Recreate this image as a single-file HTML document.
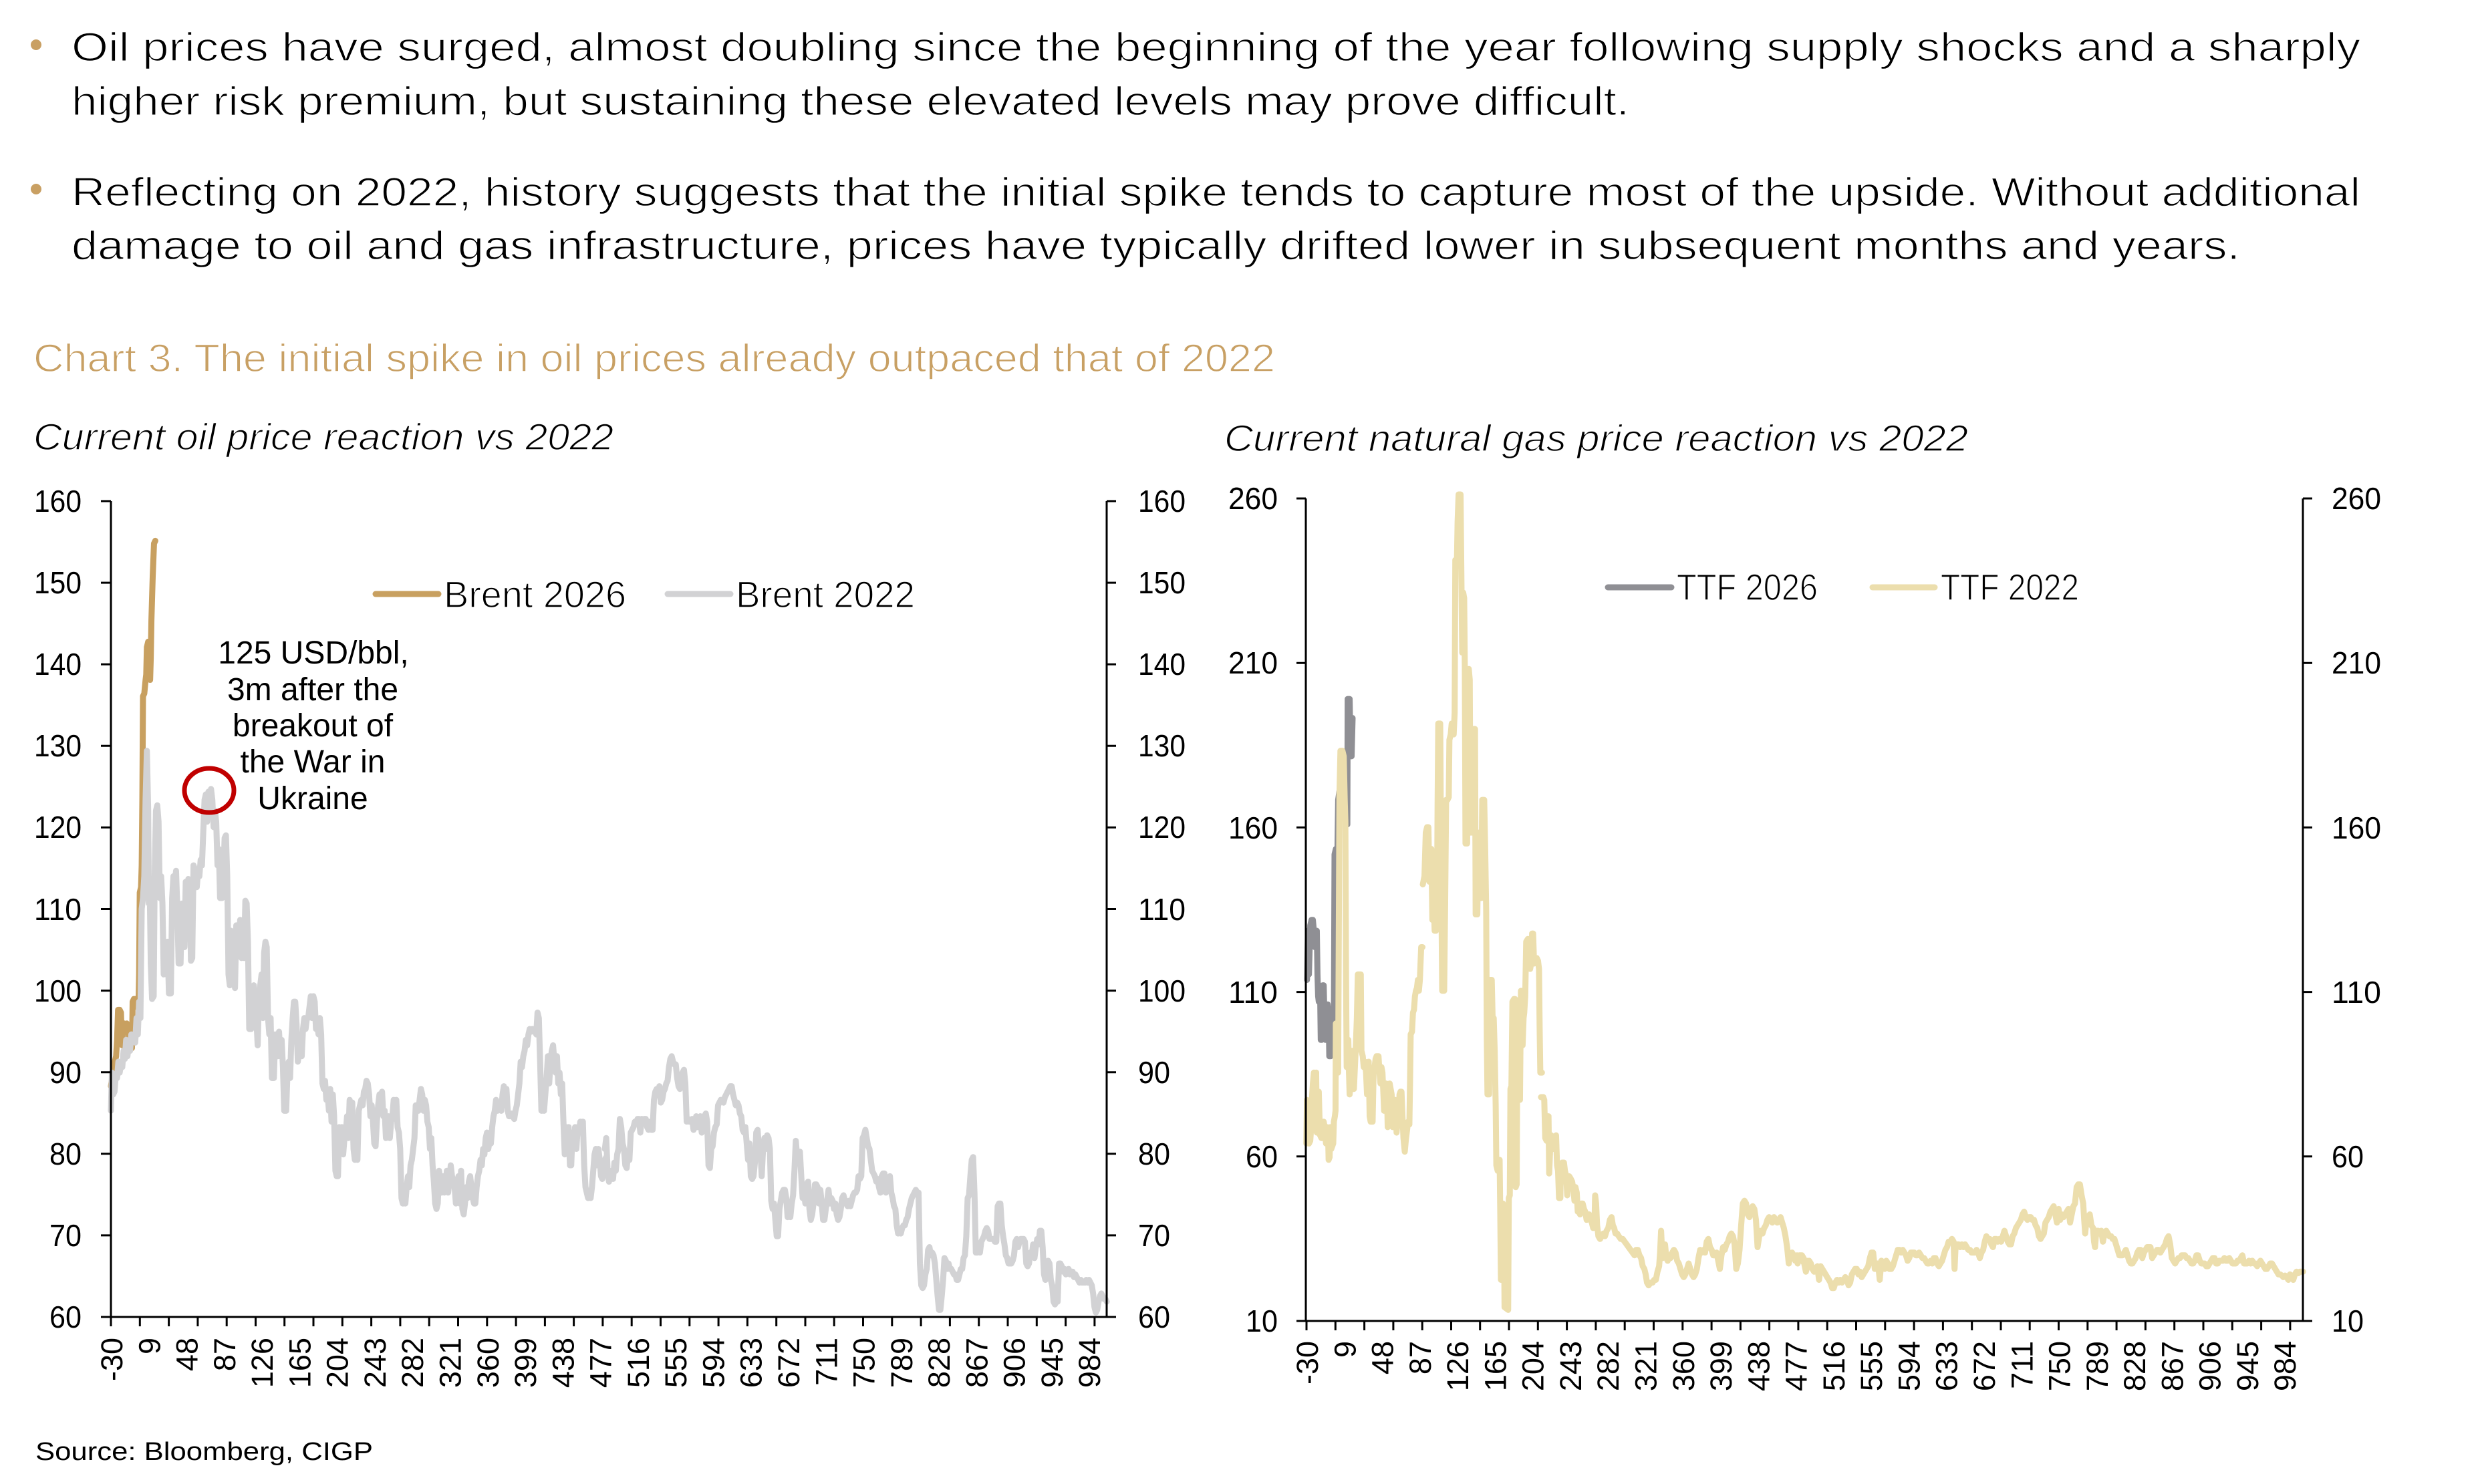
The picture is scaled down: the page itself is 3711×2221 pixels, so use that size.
<!DOCTYPE html>
<html><head><meta charset="utf-8"><style>
html,body{margin:0;padding:0;background:#fff;}
svg{display:block;}
text{font-family:"Liberation Sans",Arial,sans-serif;fill:#000;}
.thin{stroke:#fff;stroke-width:1.4px;}
</style></head><body>
<svg width="3711" height="2221" viewBox="0 0 3711 2221" xmlns="http://www.w3.org/2000/svg">
<rect width="3711" height="2221" fill="#fff"/>
<!-- bullets -->
<circle cx="54" cy="67" r="8" fill="#C9A063"/>
<circle cx="54" cy="283" r="8" fill="#C9A063"/>
<text class="thin" x="107" y="91" font-size="60" textLength="3425" lengthAdjust="spacingAndGlyphs">Oil prices have surged, almost doubling since the beginning of the year following supply shocks and a sharply</text>
<text class="thin" x="107" y="172" font-size="60" textLength="2331" lengthAdjust="spacingAndGlyphs">higher risk premium, but sustaining these elevated levels may prove difficult.</text>
<text class="thin" x="107" y="308" font-size="60" textLength="3425" lengthAdjust="spacingAndGlyphs">Reflecting on 2022, history suggests that the initial spike tends to capture most of the upside. Without additional</text>
<text class="thin" x="107" y="388" font-size="60" textLength="3245" lengthAdjust="spacingAndGlyphs">damage to oil and gas infrastructure, prices have typically drifted lower in subsequent months and years.</text>
<text class="thin" x="50" y="556" font-size="58" style="fill:#C8A064" textLength="1858" lengthAdjust="spacingAndGlyphs">Chart 3. The initial spike in oil prices already outpaced that of 2022</text>
<text class="thin" x="50" y="673" font-size="56" font-style="italic" textLength="868" lengthAdjust="spacingAndGlyphs">Current oil price reaction vs 2022</text>
<text class="thin" x="1832" y="675" font-size="56" font-style="italic" textLength="1113" lengthAdjust="spacingAndGlyphs">Current natural gas price reaction vs 2022</text>
<text x="53" y="2185" font-size="38" textLength="505" lengthAdjust="spacingAndGlyphs">Source: Bloomberg, CIGP</text>

<!-- ===== LEFT CHART ===== -->
<g fill="none" stroke-linejoin="round" stroke-linecap="round">
<!-- Brent 2026 -->
<g transform="translate(150,740) scale(0.4847,0.8163)">
<path vector-effect="non-scaling-stroke" stroke="#C8A060" stroke-width="9" d="M33,1085 L37,1070 L41,1060 L45,1040 L49,1030 L52,1000 L55,945 L60,945 L64,950 L66,990 L68,1010 L70,975 L74,970 L78,975 L82,970 L86,975 L90,1010 L94,1000 L98,1015 L100,930 L104,925 L110,925 L114,940 L118,940 L120,880 L122,730 L126,720 L128,680 L130,560 L132,370 L136,365 L140,340 L142,330 L144,280 L148,270 L150,270 L154,340 L156,300 L158,230 L162,150 L166,90 L170,85"/>
<!-- Brent 2022 part 1 -->
<path vector-effect="non-scaling-stroke" stroke="#D2D2D4" stroke-width="9" d="M33,1130 L36,1060 L40,1100 L44,1095 L48,1065 L52,1070 L56,1040 L60,1060 L64,1045 L68,1050 L72,1020 L76,1035 L80,1000 L84,1030 L88,1010 L92,1020 L96,990 L100,1000 L104,990 L108,1005 L112,960 L116,990 L120,930 L124,960 L128,760 L132,740 L136,700 L140,560 L144,470 L148,580 L150,750 L153,730 L156,860 L160,925 L165,920 L168,700 L172,580 L176,570 L180,600 L184,740 L188,700 L192,750 L196,880 L200,860 L204,880 L208,820 L212,915 L218,915 L222,740 L226,700 L230,720 L234,690 L238,760 L242,860 L248,860 L252,750 L256,780 L260,830 L264,710 L268,760 L272,705 L276,720 L280,855 L284,850 L288,680 L294,690 L298,720 L302,690 L306,700 L310,670 L314,680 L318,620 L322,560 L326,550 L330,600 L334,545 L338,560 L342,540 L346,560 L350,610 L354,580 L358,600 L362,680 L366,650 L370,740 L376,740 L380,700 L384,630 L388,625 L392,700 L396,880 L400,900 L404,800 L408,880 L412,820 L416,905 L420,790 L424,790 L428,820 L432,780 L436,850 L440,800 L444,850 L448,745 L452,750 L456,820 L460,980 L466,980 L470,910 L474,900 L478,960 L482,960 L486,1010 L490,920 L494,900 L498,880 L502,960 L506,840 L510,820 L514,830 L518,960 L522,990 L526,960 L530,1070 L536,1070 L540,990 L544,1000 L548,1030 L552,985 L556,1030 L560,1000 L564,1050 L568,1130 L574,1130 L578,1060 L582,1040 L586,1070 L590,1000 L594,960 L598,930 L602,930 L606,970 L610,1040 L614,1020 L618,1000 L622,1030 L626,980 L630,960 L634,980 L638,960 L642,960 L646,940 L650,920 L654,960 L658,920 L662,930 L666,980 L670,975 L674,990 L678,960 L682,990 L686,1080 L690,1090 L694,1075 L698,1110 L702,1100 L706,1130 L710,1090 L714,1150 L718,1100 L722,1140 L726,1240 L730,1250 L734,1250 L738,1160 L742,1200 L746,1160 L750,1210 L754,1180 L758,1170 L762,1140 L766,1180 L770,1110 L774,1150 L778,1115 L782,1200 L786,1220 L790,1200 L794,1220 L798,1130 L802,1120 L806,1110 L810,1120 L814,1095 L818,1090 L822,1075 L826,1080 L830,1100 L834,1140 L838,1120 L842,1150 L846,1190 L850,1195 L854,1150 L858,1120 L862,1100 L866,1110 L870,1095 L874,1140 L878,1130 L882,1180 L886,1170 L890,1140 L894,1180 L898,1150 L902,1140 L906,1110 L910,1140 L914,1110 L918,1160 L922,1170 L926,1200 L930,1290 L934,1300 L938,1280 L942,1300 L946,1270 L950,1250 L954,1270 L958,1230 L962,1220 L966,1200 L970,1180 L974,1120 L978,1120 L982,1130 L986,1110 L990,1090 L994,1100 L998,1130 L1002,1110 L1006,1120 L1010,1150 L1014,1160 L1018,1200 L1022,1180 L1026,1230 L1030,1260 L1034,1300 L1038,1310 L1042,1300 L1046,1240 L1050,1260 L1054,1280 L1058,1250 L1062,1280 L1066,1270 L1070,1240 L1074,1280 L1078,1260 L1082,1230 L1086,1250 L1090,1260 L1094,1270 L1098,1300 L1102,1260 L1106,1250 L1110,1300 L1114,1240 L1118,1310 L1122,1320 L1126,1300 L1130,1270 L1134,1290 L1138,1260 L1142,1250 L1146,1270 L1150,1290 L1154,1300 L1158,1300 L1162,1270 L1166,1250 L1170,1240 L1174,1220 L1178,1230 L1182,1200 L1186,1210 L1190,1180 L1194,1170 L1198,1200 L1202,1185 L1206,1190 L1210,1160 L1214,1140 L1218,1130 L1222,1110 L1226,1130 L1230,1115 L1234,1120 L1238,1130 L1242,1100 L1246,1085 L1250,1100 L1254,1090 L1258,1130 L1262,1140 L1266,1140 L1270,1135 L1274,1140 L1278,1145 L1282,1130 L1286,1120 L1290,1100 L1294,1080 L1298,1040 L1302,1050 L1306,1030 L1310,1020 L1314,1000 L1318,1010 L1322,990 L1326,980 L1330,985 L1334,980 L1338,985 L1342,980 L1346,990 L1350,950 L1354,960 L1358,1040 L1362,1130 L1366,1120 L1370,1130 L1374,1100 L1378,1070 L1382,1030 L1386,1080 L1390,1040 L1394,1020 L1398,1010 L1402,1040 L1406,1060 L1410,1030 L1414,1080 L1418,1060 L1422,1100 L1426,1080 L1430,1150 L1434,1210 L1438,1160 L1442,1170 L1446,1160 L1450,1230 L1454,1230 L1458,1170 L1462,1190 L1466,1160 L1470,1200 L1474,1160 L1478,1170 L1482,1150 L1486,1160 L1490,1150 L1494,1230 L1498,1270 L1502,1280 L1506,1290 L1510,1280 L1514,1290 L1518,1270 L1522,1240 L1526,1210 L1530,1200 L1534,1230 L1538,1200 L1542,1220 L1546,1250 L1550,1255 L1554,1240 L1558,1220 L1562,1215 L1566,1240"/>
</g>
<g transform="translate(900,740) scale(0.5102,0.8163)">
<path vector-effect="non-scaling-stroke" stroke="#D2D2D4" stroke-width="9" d="M10,1200 L14,1180 L18,1240 L22,1260 L26,1250 L30,1240 L34,1255 L38,1225 L42,1240 L46,1210 L50,1200 L54,1145 L58,1160 L62,1190 L66,1200 L70,1230 L74,1235 L78,1210 L82,1220 L86,1170 L90,1165 L94,1160 L98,1150 L102,1150 L106,1145 L110,1145 L114,1170 L118,1145 L122,1150 L126,1145 L130,1145 L134,1160 L138,1165 L142,1150 L146,1165 L150,1165 L154,1110 L158,1095 L162,1090 L166,1100 L170,1085 L174,1115 L178,1110 L182,1095 L186,1090 L190,1080 L194,1075 L198,1050 L202,1035 L206,1030 L210,1040 L214,1045 L218,1045 L222,1070 L226,1085 L230,1090 L234,1065 L238,1060 L242,1055 L246,1080 L250,1150 L254,1145 L258,1150 L262,1150 L266,1145 L270,1165 L274,1160 L278,1140 L282,1160 L286,1150 L290,1140 L294,1170 L298,1165 L302,1140 L306,1135 L310,1150 L314,1230 L318,1235 L322,1200 L326,1195 L330,1170 L334,1160 L338,1155 L342,1120 L346,1115 L350,1110 L354,1110 L358,1115 L362,1105 L366,1100 L370,1095 L374,1090 L378,1085 L382,1085 L386,1100 L390,1110 L394,1120 L398,1115 L402,1120 L406,1135 L410,1140 L414,1165 L418,1170 L422,1160 L426,1190 L430,1220 L434,1190 L438,1250 L442,1255 L446,1250 L450,1225 L454,1170 L458,1165 L462,1200 L466,1200 L470,1250 L474,1200 L478,1180 L482,1200 L486,1175 L490,1180 L494,1200 L498,1295 L502,1310 L506,1300 L510,1330 L514,1360 L518,1360 L522,1310 L526,1295 L530,1280 L534,1275 L538,1275 L542,1290 L546,1325 L550,1320 L554,1325 L558,1300 L562,1285 L566,1240 L570,1185 L574,1215 L578,1210 L582,1205 L586,1250 L590,1290 L594,1280 L598,1300 L602,1265 L606,1260 L610,1310 L614,1330 L618,1320 L622,1300 L626,1265 L630,1265 L634,1270 L638,1300 L642,1275 L646,1300 L650,1330 L654,1330 L658,1310 L662,1295 L666,1275 L670,1300 L674,1290 L678,1295 L682,1310 L686,1300 L690,1320 L694,1330 L698,1325 L702,1310 L706,1290 L710,1285 L714,1295 L718,1300 L722,1305 L726,1295 L730,1305 L734,1295 L738,1285 L742,1280 L746,1280 L750,1275 L754,1250 L758,1255 L762,1250 L766,1180 L770,1175 L774,1165 L778,1180 L782,1195 L786,1200 L790,1220 L794,1240 L798,1245 L802,1250 L806,1260 L810,1255 L814,1270 L818,1280 L822,1250 L826,1245 L830,1245 L834,1280 L838,1270 L842,1260 L846,1250 L850,1280 L854,1290 L858,1305 L862,1310 L866,1340 L870,1355 L874,1350 L878,1355 L882,1345 L886,1340 L890,1340 L894,1330 L898,1325 L902,1310 L906,1300 L910,1290 L914,1285 L918,1280 L922,1275 L926,1280 L930,1280 L934,1410 L938,1450 L942,1455 L946,1450 L950,1430 L954,1420 L958,1385 L962,1380 L966,1395 L970,1390 L974,1395 L978,1410 L982,1440 L986,1470 L990,1495 L994,1495 L998,1470 L1002,1440 L1006,1400 L1010,1405 L1014,1420 L1018,1410 L1022,1420 L1026,1420 L1030,1425 L1034,1430 L1038,1430 L1042,1440 L1046,1440 L1050,1430 L1054,1420 L1058,1420 L1062,1400 L1066,1395 L1070,1360 L1074,1290 L1078,1285 L1082,1250 L1086,1220 L1090,1215 L1094,1280 L1098,1390 L1102,1390 L1106,1385 L1110,1390 L1114,1370 L1118,1365 L1122,1360 L1126,1350 L1130,1345 L1134,1350 L1138,1365 L1142,1365 L1146,1365 L1150,1365 L1154,1370 L1158,1370 L1162,1305 L1166,1300 L1170,1300 L1174,1340 L1178,1360 L1182,1375 L1186,1395 L1190,1400 L1194,1410 L1198,1410 L1202,1410 L1206,1405 L1210,1395 L1214,1370 L1218,1365 L1222,1380 L1226,1370 L1230,1365 L1234,1365 L1238,1365 L1242,1370 L1246,1410 L1250,1415 L1254,1410 L1258,1390 L1262,1395 L1266,1375 L1270,1400 L1274,1380 L1278,1365 L1282,1375 L1286,1350 L1290,1350 L1294,1380 L1298,1430 L1302,1440 L1306,1410 L1310,1405 L1314,1410 L1318,1440 L1322,1450 L1326,1480 L1330,1485 L1334,1480 L1338,1480 L1342,1410 L1346,1410 L1350,1415 L1354,1425 L1358,1420 L1362,1430 L1366,1425 L1370,1420 L1374,1430 L1378,1425 L1382,1425 L1386,1435 L1390,1430 L1394,1435 L1398,1440 L1402,1445 L1406,1440 L1410,1445 L1414,1445 L1418,1445 L1422,1440 L1426,1445 L1430,1440 L1434,1445 L1438,1450 L1442,1465 L1446,1490 L1450,1500 L1454,1495 L1458,1480 L1462,1470 L1466,1465 L1470,1470 L1474,1475 L1478,1475 L1482,1480"/>
</g>
<!-- legend left -->
<line x1="562" y1="889" x2="656" y2="889" stroke="#C8A060" stroke-width="9"/>
<line x1="999" y1="889" x2="1093" y2="889" stroke="#D2D2D4" stroke-width="9"/>
<!-- red circle -->
<ellipse cx="313" cy="1183" rx="37" ry="33" stroke="#C00000" stroke-width="7"/>
</g>
<text class="thin" x="664" y="909" font-size="56" textLength="273" lengthAdjust="spacingAndGlyphs">Brent 2026</text>
<text class="thin" x="1101" y="909" font-size="56" textLength="268" lengthAdjust="spacingAndGlyphs">Brent 2022</text>
<g font-size="48" text-anchor="middle">
<text x="469" y="993">125 USD/bbl,</text>
<text x="468" y="1048">3m after the</text>
<text x="468" y="1102">breakout of</text>
<text x="468" y="1156">the War in</text>
<text x="468" y="1211">Ukraine</text>
</g>
<!-- left chart axes -->
<g stroke="#000" stroke-width="3" fill="none">
<line x1="166" y1="750" x2="166" y2="1972"/>
<line x1="1656" y1="750" x2="1656" y2="1972"/>
<line x1="151" y1="1971" x2="1670" y2="1971"/>
<path d="M151,750h15 M151,872.1h15 M151,994.2h15 M151,1116.3h15 M151,1238.4h15 M151,1360.5h15 M151,1482.6h15 M151,1604.7h15 M151,1726.8h15 M151,1848.9h15
M1656,750h14 M1656,872.1h14 M1656,994.2h14 M1656,1116.3h14 M1656,1238.4h14 M1656,1360.5h14 M1656,1482.6h14 M1656,1604.7h14 M1656,1726.8h14 M1656,1848.9h14
M166,1971v14 M209.3,1971v14 M252.6,1971v14 M295.9,1971v14 M339.2,1971v14 M382.5,1971v14 M425.7,1971v14 M469,1971v14 M512.3,1971v14 M555.6,1971v14 M598.9,1971v14 M642.2,1971v14 M685.5,1971v14 M728.8,1971v14 M772.1,1971v14 M815.4,1971v14 M858.6,1971v14 M901.9,1971v14 M945.2,1971v14 M988.5,1971v14 M1031.8,1971v14 M1075.1,1971v14 M1118.4,1971v14 M1161.7,1971v14 M1205,1971v14 M1248.2,1971v14 M1291.5,1971v14 M1334.8,1971v14 M1378.1,1971v14 M1421.4,1971v14 M1464.7,1971v14 M1508,1971v14 M1551.3,1971v14 M1594.6,1971v14 M1637.9,1971v14"/>
</g>
<g font-size="46">
<text x="51" y="766" textLength="71" lengthAdjust="spacingAndGlyphs">160</text>
<text x="51" y="888" textLength="71" lengthAdjust="spacingAndGlyphs">150</text>
<text x="51" y="1010" textLength="71" lengthAdjust="spacingAndGlyphs">140</text>
<text x="51" y="1132" textLength="71" lengthAdjust="spacingAndGlyphs">130</text>
<text x="51" y="1254" textLength="71" lengthAdjust="spacingAndGlyphs">120</text>
<text x="51" y="1377" textLength="71" lengthAdjust="spacingAndGlyphs">110</text>
<text x="51" y="1499" textLength="71" lengthAdjust="spacingAndGlyphs">100</text>
<text x="74" y="1621" textLength="48" lengthAdjust="spacingAndGlyphs">90</text>
<text x="74" y="1743" textLength="48" lengthAdjust="spacingAndGlyphs">80</text>
<text x="74" y="1865" textLength="48" lengthAdjust="spacingAndGlyphs">70</text>
<text x="74" y="1987" textLength="48" lengthAdjust="spacingAndGlyphs">60</text>
<text x="1703" y="766" textLength="71" lengthAdjust="spacingAndGlyphs">160</text>
<text x="1703" y="888" textLength="71" lengthAdjust="spacingAndGlyphs">150</text>
<text x="1703" y="1010" textLength="71" lengthAdjust="spacingAndGlyphs">140</text>
<text x="1703" y="1132" textLength="71" lengthAdjust="spacingAndGlyphs">130</text>
<text x="1703" y="1254" textLength="71" lengthAdjust="spacingAndGlyphs">120</text>
<text x="1703" y="1377" textLength="71" lengthAdjust="spacingAndGlyphs">110</text>
<text x="1703" y="1499" textLength="71" lengthAdjust="spacingAndGlyphs">100</text>
<text x="1703" y="1621" textLength="48" lengthAdjust="spacingAndGlyphs">90</text>
<text x="1703" y="1743" textLength="48" lengthAdjust="spacingAndGlyphs">80</text>
<text x="1703" y="1865" textLength="48" lengthAdjust="spacingAndGlyphs">70</text>
<text x="1703" y="1987" textLength="48" lengthAdjust="spacingAndGlyphs">60</text>
</g>
<g font-size="45" text-anchor="end">
<text transform="translate(183,2002) rotate(-90)">-30</text>
<text transform="translate(239.3,2002) rotate(-90)">9</text>
<text transform="translate(295.6,2002) rotate(-90)">48</text>
<text transform="translate(351.8,2002) rotate(-90)">87</text>
<text transform="translate(408.1,2002) rotate(-90)">126</text>
<text transform="translate(464.4,2002) rotate(-90)">165</text>
<text transform="translate(520.7,2002) rotate(-90)">204</text>
<text transform="translate(576.9,2002) rotate(-90)">243</text>
<text transform="translate(633.2,2002) rotate(-90)">282</text>
<text transform="translate(689.5,2002) rotate(-90)">321</text>
<text transform="translate(745.8,2002) rotate(-90)">360</text>
<text transform="translate(802,2002) rotate(-90)">399</text>
<text transform="translate(858.3,2002) rotate(-90)">438</text>
<text transform="translate(914.6,2002) rotate(-90)">477</text>
<text transform="translate(970.9,2002) rotate(-90)">516</text>
<text transform="translate(1027.2,2002) rotate(-90)">555</text>
<text transform="translate(1083.4,2002) rotate(-90)">594</text>
<text transform="translate(1139.7,2002) rotate(-90)">633</text>
<text transform="translate(1196,2002) rotate(-90)">672</text>
<text transform="translate(1252.3,2002) rotate(-90)">711</text>
<text transform="translate(1308.5,2002) rotate(-90)">750</text>
<text transform="translate(1364.8,2002) rotate(-90)">789</text>
<text transform="translate(1421.1,2002) rotate(-90)">828</text>
<text transform="translate(1477.4,2002) rotate(-90)">867</text>
<text transform="translate(1533.6,2002) rotate(-90)">906</text>
<text transform="translate(1589.9,2002) rotate(-90)">945</text>
<text transform="translate(1646.2,2002) rotate(-90)">984</text>
</g>

<!-- ===== RIGHT CHART ===== -->
<g fill="none" stroke-linejoin="round" stroke-linecap="round">
<g transform="translate(1940,740) scale(0.4911,0.8163)">
<path vector-effect="non-scaling-stroke" stroke="#8F8F94" stroke-width="9" d="M32,890 L35,800 L38,880 L42,790 L46,780 L50,780 L53,800 L56,830 L58,800 L62,800 L64,880 L66,920 L68,930 L70,900 L72,910 L74,1000 L77,1000 L80,900 L83,900 L86,980 L88,1000 L91,940 L95,935 L98,950 L100,1030 L104,1030 L106,945 L112,945 L114,960 L116,660 L120,650 L124,690 L127,560 L132,540 L136,560 L140,580 L146,570 L150,600 L155,605 L156,375 L162,375 L165,480 L168,480 L171,410"/>
<path vector-effect="non-scaling-stroke" stroke="#ECDEAD" stroke-width="9" d="M30,1190 L32,1110 L35,1150 L38,1190 L42,1185 L45,1160 L48,1100 L50,1080 L53,1060 L57,1065 L60,1060 L62,1170 L65,1120 L68,1095 L70,1140 L72,1175 L76,1180 L80,1180 L83,1150 L86,1160 L90,1190 L93,1160 L96,1165 L98,1220 L101,1215 L103,1160 L106,1200 L109,1195 L112,1190 L114,1150 L117,1140 L119,1130 L120,970 L124,1060 L127,1060 L129,800 L131,550 L134,470 L140,470 L144,480 L147,560 L149,600 L151,880 L153,1050 L156,1050 L158,1000 L160,1060 L162,1100 L165,1080 L168,1020 L170,1060 L172,1090 L175,1090 L178,1050 L181,1010 L184,960 L187,880 L192,880 L196,880 L198,1020 L202,1030 L205,1050 L209,1040 L212,1060 L215,1100 L218,1060 L220,1040 L223,1140 L226,1150 L232,1150 L235,1060 L238,1050 L241,1035 L244,1030 L250,1030 L253,1060 L256,1080 L259,1050 L262,1060 L265,1100 L267,1130 L270,1080 L273,1080 L276,1100 L278,1160 L281,1110 L284,1080 L287,1090 L290,1100 L293,1160 L296,1140 L300,1110 L303,1140 L305,1170 L308,1150 L311,1140 L314,1100 L317,1095 L320,1095 L323,1140 L326,1180 L330,1205 L333,1185 L336,1170 L340,1150 L344,1155 L346,1080 L348,990 L352,985 L355,950 L358,945 L361,920 L364,910 L367,905 L370,890 L373,910 L376,890 L378,860 L380,830 L384,830 M385,715 L390,700 L394,620 L398,610 L402,610 L405,710 L408,660 L411,650 L414,780 L417,780 L419,760 L421,800 L425,800 L428,780 L430,570 L432,420 L438,420 L441,700 L444,910 L450,910 L453,750 L456,560 L460,560 L464,555 L466,450 L470,440 L473,420 L476,430 L479,440 L482,400 L484,120 L489,120 L491,50 L494,0 L500,0 L503,180 L505,290 L508,180 L511,190 L513,320 L515,640 L520,640 L522,330 L525,320 L528,340 L530,620 L533,540 L535,620 L538,560 L540,430 L544,430 L546,770 L551,770 L553,680 L555,620 L558,660 L560,740 L563,740 L566,560 L572,560 L575,650 L578,760 L580,1000 L582,1100 L587,1100 L589,890 L595,890 L598,970 L601,960 L604,1020 L607,1120 L609,1230 L613,1240 L619,1220 L621,1320 L623,1440 L627,1440 L629,1300 L632,1320 L634,1490 L645,1495 L647,1290 L650,1285 L652,1090 L655,1085 L658,930 L663,925 L666,925 L668,1270 L671,1265 L673,990 L676,990 L678,1110 L681,1110 L684,910 L687,920 L689,1010 L692,960 L694,950 L697,920 L700,820 L705,815 L709,820 L712,870 L715,860 L718,805 L721,805 L724,860 L728,855 L732,850 L736,855 L739,870 L741,980 L743,1060 L748,1060 M745,1105 L752,1105 L755,1110 L758,1180 L762,1185 L765,1140 L768,1140 L770,1245 L773,1200 L776,1175 L780,1180 L784,1200 L788,1185 L791,1175 L794,1230 L797,1240 L800,1290 L804,1290 L806,1230 L810,1225 L815,1225 L818,1240 L822,1250 L825,1285 L828,1260 L831,1250 L836,1255 L840,1260 L844,1275 L847,1295 L850,1270 L854,1280 L857,1315 L861,1300 L864,1320 L868,1300 L872,1300 L876,1310 L880,1315 L884,1330 L888,1320 L892,1320 L896,1330 L900,1335 L904,1345 L908,1340 L910,1285 L913,1300 L916,1340 L920,1360 L925,1365 L930,1360 L935,1355 L940,1360 L945,1350 L950,1345 L955,1330 L960,1325 L964,1340 L968,1345 L972,1355 L977,1355 L982,1360 L988,1365 L994,1365 L1000,1370 L1006,1375 L1012,1380 L1018,1385 L1024,1390 L1030,1395 L1035,1385 L1040,1385 L1045,1395 L1050,1400 L1055,1415 L1060,1420 L1064,1430 L1068,1445 L1073,1450 L1080,1445 L1085,1445 L1090,1440 L1095,1440 L1100,1425 L1105,1415 L1108,1390 L1111,1350 L1115,1400 L1119,1395 L1123,1375 L1127,1400 L1131,1405 L1135,1395 L1140,1400 L1145,1390 L1150,1385 L1155,1390 L1160,1405 L1165,1410 L1170,1420 L1175,1430 L1180,1435 L1185,1430 L1190,1420 L1195,1410 L1200,1420 L1205,1430 L1210,1435 L1215,1430 L1220,1420 L1225,1400 L1230,1385 L1235,1390 L1240,1385 L1245,1390 L1250,1370 L1255,1365 L1260,1380 L1265,1385 L1270,1395 L1275,1395 L1280,1390 L1285,1405 L1290,1420 L1295,1395 L1300,1380 L1305,1385 L1310,1375 L1315,1370 L1320,1360 L1325,1355 L1330,1360 L1335,1375 L1340,1420 L1345,1410 L1350,1385 L1355,1340 L1360,1300 L1365,1295 L1370,1300 L1375,1320 L1380,1325 L1385,1310 L1390,1305 L1395,1310 L1400,1330 L1405,1380 L1410,1360 L1415,1350 L1420,1355 L1425,1345 L1430,1340 L1435,1330 L1440,1325 L1445,1330 L1450,1335 L1455,1325 L1460,1330 L1465,1335 L1470,1330 L1475,1325 L1480,1335 L1485,1345 L1490,1360 L1495,1380 L1500,1410 L1505,1395 L1510,1390 L1515,1395 L1520,1405 L1525,1395 L1530,1400 L1535,1395 L1540,1395 L1545,1400 L1550,1410 L1555,1405 L1560,1410 L1568,1415"/>
</g>
<g transform="translate(2690,740) scale(0.4911,0.8163)">
<path vector-effect="non-scaling-stroke" stroke="#ECDEAD" stroke-width="9" d="M0,1410 L5,1395 L10,1400 L15,1405 L20,1410 L25,1425 L30,1415 L35,1405 L40,1410 L45,1420 L50,1425 L55,1420 L60,1415 L65,1440 L70,1415 L75,1420 L80,1425 L85,1430 L90,1435 L95,1440 L100,1445 L105,1455 L110,1455 L115,1445 L120,1440 L125,1445 L130,1440 L135,1445 L140,1440 L145,1435 L150,1440 L155,1450 L160,1445 L165,1430 L170,1425 L175,1420 L180,1420 L185,1430 L190,1425 L195,1435 L200,1430 L205,1425 L210,1420 L215,1415 L220,1400 L225,1390 L230,1390 L235,1420 L240,1410 L245,1410 L250,1440 L255,1405 L260,1410 L265,1420 L270,1405 L275,1410 L280,1420 L285,1420 L290,1415 L295,1405 L300,1395 L305,1385 L310,1385 L315,1390 L320,1385 L325,1390 L330,1395 L335,1405 L340,1400 L345,1390 L350,1390 L355,1390 L360,1395 L365,1395 L370,1390 L375,1395 L380,1400 L385,1400 L390,1405 L395,1410 L400,1410 L405,1405 L410,1410 L415,1400 L420,1400 L425,1410 L430,1415 L435,1410 L440,1405 L445,1395 L450,1385 L455,1380 L460,1370 L465,1370 L470,1365 L475,1370 L478,1420 L481,1380 L485,1375 L490,1375 L495,1380 L500,1375 L505,1380 L510,1375 L515,1380 L520,1385 L525,1385 L530,1390 L535,1390 L540,1390 L545,1385 L550,1390 L555,1400 L560,1390 L565,1385 L570,1370 L575,1360 L580,1365 L585,1365 L590,1375 L595,1380 L600,1365 L605,1365 L610,1370 L615,1365 L620,1370 L625,1360 L630,1350 L635,1360 L640,1370 L645,1375 L650,1375 L655,1360 L660,1355 L665,1345 L670,1340 L675,1335 L680,1330 L685,1320 L690,1315 L695,1325 L700,1330 L705,1325 L710,1325 L715,1330 L720,1330 L725,1340 L730,1345 L735,1360 L740,1365 L745,1360 L750,1355 L755,1335 L760,1330 L765,1325 L770,1315 L775,1310 L780,1305 L785,1320 L790,1335 L795,1310 L800,1330 L805,1320 L810,1325 L815,1320 L820,1315 L825,1310 L830,1335 L835,1320 L840,1305 L845,1300 L850,1270 L855,1265 L860,1265 L865,1285 L870,1300 L873,1330 L876,1355 L880,1330 L885,1325 L890,1320 L895,1340 L900,1345 L903,1370 L906,1380 L910,1350 L915,1350 L920,1355 L925,1350 L930,1370 L935,1355 L940,1350 L945,1355 L950,1360 L955,1360 L960,1365 L965,1365 L970,1375 L975,1385 L980,1395 L985,1395 L990,1395 L995,1390 L1000,1385 L1005,1395 L1010,1405 L1015,1410 L1020,1410 L1025,1405 L1030,1400 L1035,1390 L1040,1385 L1045,1385 L1050,1400 L1055,1390 L1060,1385 L1065,1380 L1070,1380 L1075,1380 L1080,1400 L1085,1395 L1090,1390 L1095,1385 L1100,1385 L1105,1390 L1110,1385 L1115,1380 L1120,1375 L1125,1365 L1130,1360 L1135,1375 L1140,1400 L1145,1405 L1150,1410 L1155,1405 L1160,1400 L1165,1400 L1170,1395 L1175,1395 L1180,1395 L1185,1400 L1190,1400 L1195,1405 L1200,1410 L1205,1410 L1210,1405 L1215,1395 L1220,1395 L1225,1405 L1230,1410 L1235,1410 L1240,1410 L1245,1415 L1250,1415 L1255,1410 L1260,1405 L1265,1400 L1270,1400 L1275,1410 L1280,1410 L1285,1405 L1290,1405 L1295,1405 L1300,1400 L1305,1405 L1310,1405 L1315,1400 L1320,1405 L1325,1410 L1330,1410 L1335,1410 L1340,1405 L1345,1405 L1350,1400 L1355,1395 L1360,1410 L1365,1410 L1370,1410 L1375,1405 L1380,1410 L1385,1405 L1390,1410 L1395,1410 L1400,1415 L1405,1410 L1410,1405 L1415,1410 L1420,1415 L1425,1420 L1430,1420 L1435,1415 L1440,1410 L1445,1410 L1450,1415 L1455,1420 L1460,1425 L1465,1430 L1470,1430 L1475,1432 L1480,1435 L1485,1432 L1490,1435 L1495,1440 L1500,1430 L1505,1435 L1510,1440 L1515,1430 L1520,1425 L1525,1428 L1530,1425 L1535,1425 L1540,1425"/>
</g>
<line x1="2406" y1="879" x2="2501" y2="879" stroke="#8F8F94" stroke-width="9"/>
<line x1="2802" y1="879" x2="2895" y2="879" stroke="#ECDEAD" stroke-width="9"/>
</g>
<text class="thin" x="2509" y="898" font-size="56" textLength="211" lengthAdjust="spacingAndGlyphs">TTF 2026</text>
<text class="thin" x="2904" y="898" font-size="56" textLength="207" lengthAdjust="spacingAndGlyphs">TTF 2022</text>
<g stroke="#000" stroke-width="3" fill="none">
<line x1="1954" y1="746" x2="1954" y2="1978"/>
<line x1="3446" y1="746" x2="3446" y2="1978"/>
<line x1="1940" y1="1977" x2="3460" y2="1977"/>
<path d="M1940,746h14 M1940,992.2h14 M1940,1238.4h14 M1940,1484.6h14 M1940,1730.8h14
M3446,746h14 M3446,992.2h14 M3446,1238.4h14 M3446,1484.6h14 M3446,1730.8h14
M1955,1977v14 M1998.3,1977v14 M2041.6,1977v14 M2084.9,1977v14 M2128.2,1977v14 M2171.5,1977v14 M2214.7,1977v14 M2258,1977v14 M2301.3,1977v14 M2344.6,1977v14 M2387.9,1977v14 M2431.2,1977v14 M2474.5,1977v14 M2517.8,1977v14 M2561.1,1977v14 M2604.4,1977v14 M2647.6,1977v14 M2690.9,1977v14 M2734.2,1977v14 M2777.5,1977v14 M2820.8,1977v14 M2864.1,1977v14 M2907.4,1977v14 M2950.7,1977v14 M2994,1977v14 M3037.2,1977v14 M3080.5,1977v14 M3123.8,1977v14 M3167.1,1977v14 M3210.4,1977v14 M3253.7,1977v14 M3297,1977v14 M3340.3,1977v14 M3383.6,1977v14 M3426.9,1977v14"/>
</g>
<g font-size="46">
<text x="1838" y="762" textLength="74" lengthAdjust="spacingAndGlyphs">260</text>
<text x="1838" y="1008" textLength="74" lengthAdjust="spacingAndGlyphs">210</text>
<text x="1838" y="1255" textLength="74" lengthAdjust="spacingAndGlyphs">160</text>
<text x="1838" y="1501" textLength="74" lengthAdjust="spacingAndGlyphs">110</text>
<text x="1864" y="1747" textLength="48" lengthAdjust="spacingAndGlyphs">60</text>
<text x="1864" y="1993" textLength="48" lengthAdjust="spacingAndGlyphs">10</text>
<text x="3489" y="762" textLength="74" lengthAdjust="spacingAndGlyphs">260</text>
<text x="3489" y="1008" textLength="74" lengthAdjust="spacingAndGlyphs">210</text>
<text x="3489" y="1255" textLength="74" lengthAdjust="spacingAndGlyphs">160</text>
<text x="3489" y="1501" textLength="74" lengthAdjust="spacingAndGlyphs">110</text>
<text x="3489" y="1747" textLength="48" lengthAdjust="spacingAndGlyphs">60</text>
<text x="3489" y="1993" textLength="48" lengthAdjust="spacingAndGlyphs">10</text>
</g>
<g font-size="45" text-anchor="end">
<text transform="translate(1972,2007) rotate(-90)">-30</text>
<text transform="translate(2028.3,2007) rotate(-90)">9</text>
<text transform="translate(2084.6,2007) rotate(-90)">48</text>
<text transform="translate(2140.8,2007) rotate(-90)">87</text>
<text transform="translate(2197.1,2007) rotate(-90)">126</text>
<text transform="translate(2253.4,2007) rotate(-90)">165</text>
<text transform="translate(2309.7,2007) rotate(-90)">204</text>
<text transform="translate(2365.9,2007) rotate(-90)">243</text>
<text transform="translate(2422.2,2007) rotate(-90)">282</text>
<text transform="translate(2478.5,2007) rotate(-90)">321</text>
<text transform="translate(2534.8,2007) rotate(-90)">360</text>
<text transform="translate(2591,2007) rotate(-90)">399</text>
<text transform="translate(2647.3,2007) rotate(-90)">438</text>
<text transform="translate(2703.6,2007) rotate(-90)">477</text>
<text transform="translate(2759.9,2007) rotate(-90)">516</text>
<text transform="translate(2816.2,2007) rotate(-90)">555</text>
<text transform="translate(2872.4,2007) rotate(-90)">594</text>
<text transform="translate(2928.7,2007) rotate(-90)">633</text>
<text transform="translate(2985,2007) rotate(-90)">672</text>
<text transform="translate(3041.3,2007) rotate(-90)">711</text>
<text transform="translate(3097.5,2007) rotate(-90)">750</text>
<text transform="translate(3153.8,2007) rotate(-90)">789</text>
<text transform="translate(3210.1,2007) rotate(-90)">828</text>
<text transform="translate(3266.4,2007) rotate(-90)">867</text>
<text transform="translate(3322.6,2007) rotate(-90)">906</text>
<text transform="translate(3378.9,2007) rotate(-90)">945</text>
<text transform="translate(3435.2,2007) rotate(-90)">984</text>
</g>
</svg>
</body></html>
